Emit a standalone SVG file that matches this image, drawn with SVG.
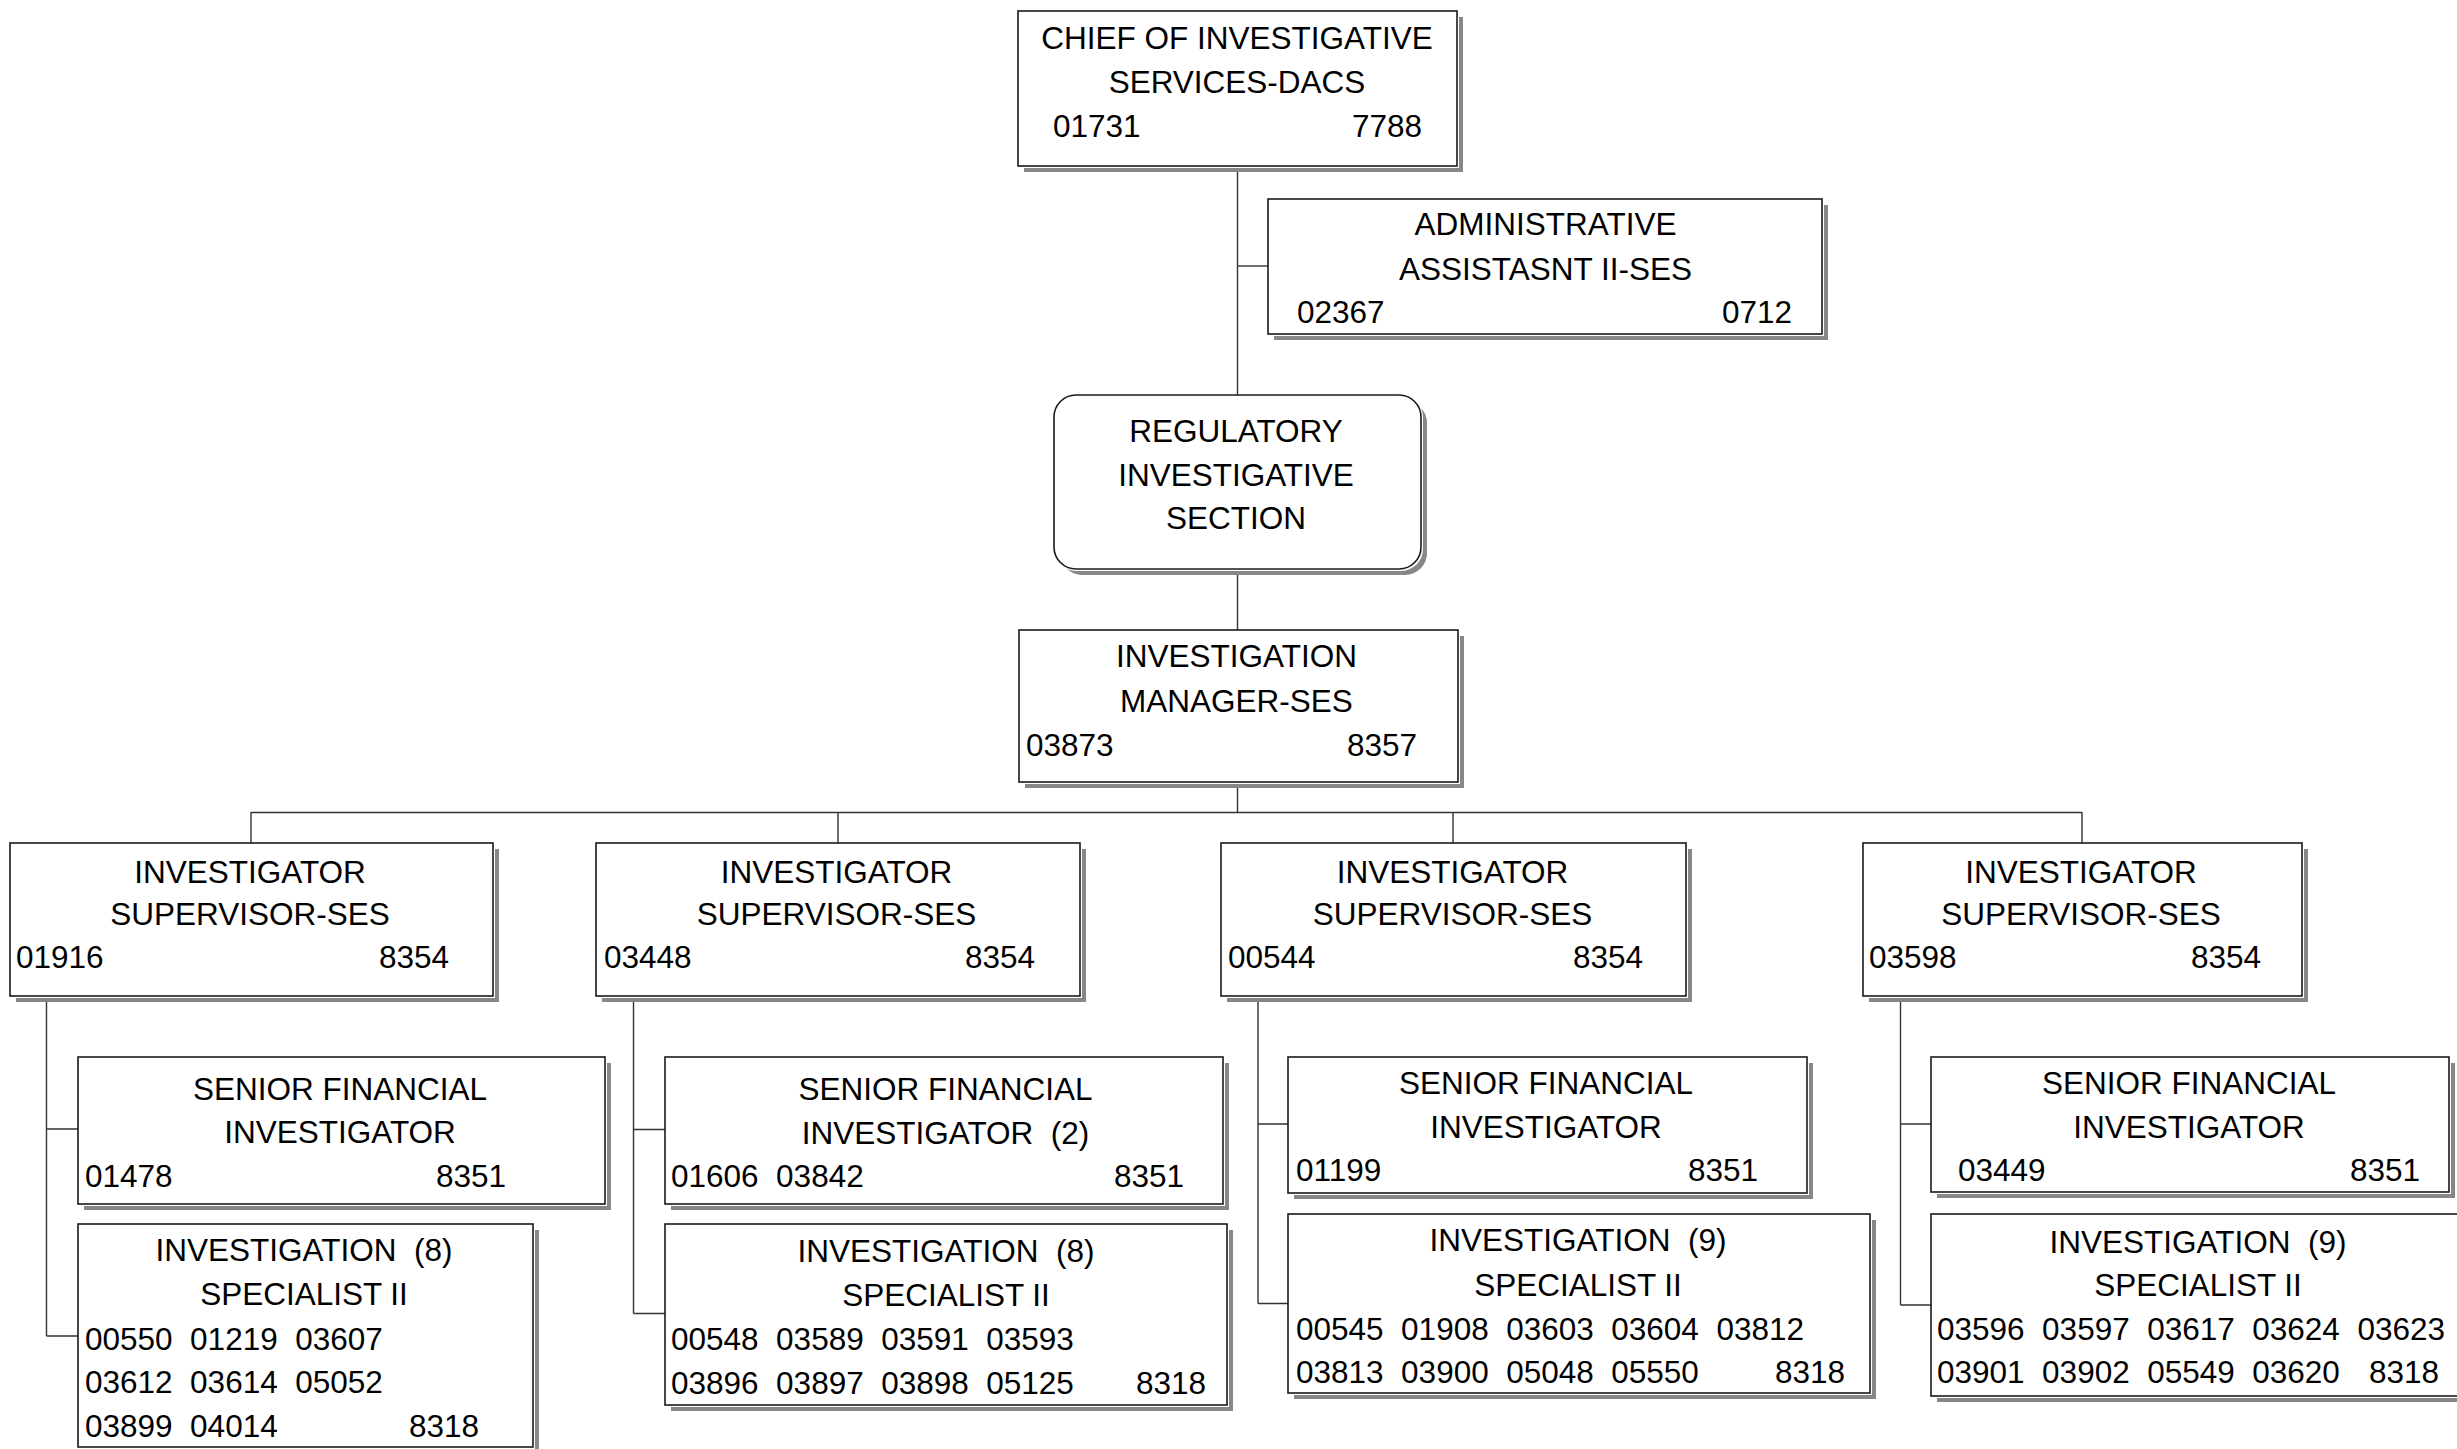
<svg xmlns="http://www.w3.org/2000/svg" width="2457" height="1449" viewBox="0 0 2457 1449">
  <style>
    text { font-family: "Liberation Sans", Arial, sans-serif; font-size: 31.5px; fill: #000; }
    .c { text-anchor: middle; }
    .e { text-anchor: end; }
    .pre { white-space: pre; }
    .shadow { fill: #878787; }
    .halo { fill: #fff; }
    .box { fill: #fff; stroke: #1a1a1a; stroke-width: 1.6; }
    .wire { fill: none; stroke: #333; stroke-width: 1.4; }
  </style>
  <rect x="0" y="0" width="2457" height="1449" fill="#fff"/>

  <!-- reporting lines -->
  <g id="connectors" class="wire">
    <path d="M1237.5 166 V395 M1237.5 569 V630 M1237.5 782 V812"/>
    <path d="M1237.5 266 H1268"/>
    <path d="M251 812.5 H2082"/>
    <path d="M251 812 V843 M838 812 V843 M1453 812 V843 M2082 812 V843"/>
    <path d="M46.5 996 V1336 M46.5 1129 H78 M46.5 1336 H78"/>
    <path d="M633.5 996 V1313.5 M633.5 1129.5 H665 M633.5 1313.5 H665"/>
    <path d="M1258 996 V1303.5 M1258 1124 H1288 M1258 1303.5 H1288"/>
    <path d="M1900.5 996 V1305 M1900.5 1124 H1931 M1900.5 1305 H1931"/>
  </g>

  <g id="chief">
    <rect class="shadow" x="1024" y="17" width="439" height="155"/>
    <rect class="halo" x="1018" y="11" width="441" height="157"/>
    <rect class="box" x="1018" y="11" width="439" height="155"/>
    <text class="c" x="1237" y="49">CHIEF OF INVESTIGATIVE</text>
    <text class="c" x="1237" y="93">SERVICES-DACS</text>
    <text x="1053" y="137">01731</text>
    <text class="e" x="1422" y="137">7788</text>
  </g>

  <g id="admin-assistant">
    <rect class="shadow" x="1274" y="205" width="554" height="135"/>
    <rect class="halo" x="1268" y="199" width="556" height="137"/>
    <rect class="box" x="1268" y="199" width="554" height="135"/>
    <text class="c" x="1545.5" y="235">ADMINISTRATIVE</text>
    <text class="c" x="1545.5" y="280">ASSISTASNT II-SES</text>
    <text x="1297" y="323">02367</text>
    <text class="e" x="1792" y="323">0712</text>
  </g>

  <g id="regulatory-section">
    <rect class="shadow" x="1060" y="401" width="367" height="174" rx="22"/>
    <rect class="halo" x="1054" y="395" width="369" height="176" rx="22"/>
    <rect class="box" x="1054" y="395" width="367" height="174" rx="22"/>
    <text class="c" x="1236" y="442">REGULATORY</text>
    <text class="c" x="1236" y="486">INVESTIGATIVE</text>
    <text class="c" x="1236" y="529">SECTION</text>
  </g>

  <g id="manager">
    <rect class="shadow" x="1025" y="636" width="439" height="152"/>
    <rect class="halo" x="1019" y="630" width="441" height="154"/>
    <rect class="box" x="1019" y="630" width="439" height="152"/>
    <text class="c" x="1236.5" y="667">INVESTIGATION</text>
    <text class="c" x="1236.5" y="711.5">MANAGER-SES</text>
    <text x="1026" y="755.5">03873</text>
    <text class="e" x="1417" y="755.5">8357</text>
  </g>

  <!-- supervisors -->
  <g id="supervisor-1">
    <rect class="shadow" x="16" y="849" width="483" height="153"/>
    <rect class="halo" x="10" y="843" width="485" height="155"/>
    <rect class="box" x="10" y="843" width="483" height="153"/>
    <text class="c" x="250" y="883">INVESTIGATOR</text>
    <text class="c" x="250" y="925">SUPERVISOR-SES</text>
    <text x="16" y="968">01916</text>
    <text class="e" x="449" y="968">8354</text>
  </g>

  <g id="supervisor-2">
    <rect class="shadow" x="602" y="849" width="484" height="153"/>
    <rect class="halo" x="596" y="843" width="486" height="155"/>
    <rect class="box" x="596" y="843" width="484" height="153"/>
    <text class="c" x="836.5" y="883">INVESTIGATOR</text>
    <text class="c" x="836.5" y="925">SUPERVISOR-SES</text>
    <text x="604" y="968">03448</text>
    <text class="e" x="1035" y="968">8354</text>
  </g>

  <g id="supervisor-3">
    <rect class="shadow" x="1227" y="849" width="465" height="153"/>
    <rect class="halo" x="1221" y="843" width="467" height="155"/>
    <rect class="box" x="1221" y="843" width="465" height="153"/>
    <text class="c" x="1452.5" y="883">INVESTIGATOR</text>
    <text class="c" x="1452.5" y="925">SUPERVISOR-SES</text>
    <text x="1228" y="968">00544</text>
    <text class="e" x="1643" y="968">8354</text>
  </g>

  <g id="supervisor-4">
    <rect class="shadow" x="1869" y="849" width="439" height="153"/>
    <rect class="halo" x="1863" y="843" width="441" height="155"/>
    <rect class="box" x="1863" y="843" width="439" height="153"/>
    <text class="c" x="2081" y="883">INVESTIGATOR</text>
    <text class="c" x="2081" y="925">SUPERVISOR-SES</text>
    <text x="1869" y="968">03598</text>
    <text class="e" x="2261" y="968">8354</text>
  </g>

  <!-- senior financial investigators -->
  <g id="senior-financial-1">
    <rect class="shadow" x="84" y="1063" width="527" height="147"/>
    <rect class="halo" x="78" y="1057" width="529" height="149"/>
    <rect class="box" x="78" y="1057" width="527" height="147"/>
    <text class="c" x="340" y="1100">SENIOR FINANCIAL</text>
    <text class="c" x="340" y="1143">INVESTIGATOR</text>
    <text x="85" y="1187">01478</text>
    <text class="e" x="506" y="1187">8351</text>
  </g>

  <g id="senior-financial-2">
    <rect class="shadow" x="671" y="1063" width="558" height="147"/>
    <rect class="halo" x="665" y="1057" width="560" height="149"/>
    <rect class="box" x="665" y="1057" width="558" height="147"/>
    <text class="c" x="945.5" y="1100">SENIOR FINANCIAL</text>
    <text class="c pre" x="945.5" y="1144" xml:space="preserve">INVESTIGATOR  (2)</text>
    <text class="pre" x="671" y="1187" xml:space="preserve">01606  03842</text>
    <text class="e" x="1184" y="1187">8351</text>
  </g>

  <g id="senior-financial-3">
    <rect class="shadow" x="1294" y="1063" width="519" height="136"/>
    <rect class="halo" x="1288" y="1057" width="521" height="138"/>
    <rect class="box" x="1288" y="1057" width="519" height="136"/>
    <text class="c" x="1546" y="1094">SENIOR FINANCIAL</text>
    <text class="c" x="1546" y="1138">INVESTIGATOR</text>
    <text x="1296" y="1181">01199</text>
    <text class="e" x="1758" y="1181">8351</text>
  </g>

  <g id="senior-financial-4">
    <rect class="shadow" x="1937" y="1063" width="518" height="135"/>
    <rect class="halo" x="1931" y="1057" width="520" height="137"/>
    <rect class="box" x="1931" y="1057" width="518" height="135"/>
    <text class="c" x="2189" y="1094">SENIOR FINANCIAL</text>
    <text class="c" x="2189" y="1138">INVESTIGATOR</text>
    <text x="1958" y="1181">03449</text>
    <text class="e" x="2420" y="1181">8351</text>
  </g>

  <!-- investigation specialists -->
  <g id="specialists-1">
    <rect class="shadow" x="84" y="1230" width="455" height="223"/>
    <rect class="halo" x="78" y="1224" width="457" height="225"/>
    <rect class="box" x="78" y="1224" width="455" height="223"/>
    <text class="c pre" x="304" y="1261" xml:space="preserve">INVESTIGATION  (8)</text>
    <text class="c" x="304" y="1305">SPECIALIST II</text>
    <text class="pre" x="85" y="1349.5" xml:space="preserve">00550  01219  03607</text>
    <text class="pre" x="85" y="1392.5" xml:space="preserve">03612  03614  05052</text>
    <text class="pre" x="85" y="1436.5" xml:space="preserve">03899  04014</text>
    <text class="e" x="479" y="1436.5">8318</text>
  </g>

  <g id="specialists-2">
    <rect class="shadow" x="671" y="1230" width="562" height="181"/>
    <rect class="halo" x="665" y="1224" width="564" height="183"/>
    <rect class="box" x="665" y="1224" width="562" height="181"/>
    <text class="c pre" x="946" y="1262" xml:space="preserve">INVESTIGATION  (8)</text>
    <text class="c" x="946" y="1306">SPECIALIST II</text>
    <text class="pre" x="671" y="1350" xml:space="preserve">00548  03589  03591  03593</text>
    <text class="pre" x="671" y="1394" xml:space="preserve">03896  03897  03898  05125</text>
    <text class="e" x="1206" y="1394">8318</text>
  </g>

  <g id="specialists-3">
    <rect class="shadow" x="1294" y="1220" width="582" height="179"/>
    <rect class="halo" x="1288" y="1214" width="584" height="181"/>
    <rect class="box" x="1288" y="1214" width="582" height="179"/>
    <text class="c pre" x="1578" y="1251" xml:space="preserve">INVESTIGATION  (9)</text>
    <text class="c" x="1578" y="1296">SPECIALIST II</text>
    <text class="pre" x="1296" y="1339.5" xml:space="preserve">00545  01908  03603  03604  03812</text>
    <text class="pre" x="1296" y="1383" xml:space="preserve">03813  03900  05048  05550</text>
    <text class="e" x="1845" y="1383">8318</text>
  </g>

  <g id="specialists-4">
    <rect class="shadow" x="1937" y="1220" width="560" height="182"/>
    <rect class="halo" x="1931" y="1214" width="562" height="184"/>
    <rect class="box" x="1931" y="1214" width="560" height="182"/>
    <text class="c pre" x="2198" y="1253" xml:space="preserve">INVESTIGATION  (9)</text>
    <text class="c" x="2198" y="1295.5">SPECIALIST II</text>
    <text class="pre" x="1937" y="1339.5" xml:space="preserve">03596  03597  03617  03624  03623</text>
    <text class="pre" x="1937" y="1383" xml:space="preserve">03901  03902  05549  03620</text>
    <text class="e" x="2439" y="1383">8318</text>
  </g>
</svg>
